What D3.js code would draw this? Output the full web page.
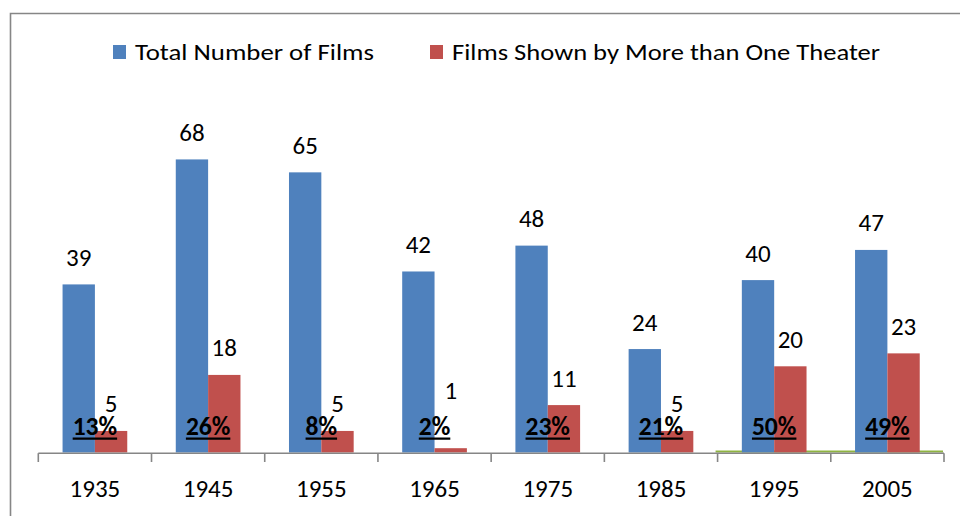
<!DOCTYPE html>
<html>
<head>
<meta charset="utf-8">
<script src="https://cdn.jsdelivr.net/npm/d3@7"></script>
<style>
  body { margin: 0; background: #fff; }
  text { font-family: Calibri, Carlito, Lato, "Open Sans", sans-serif; fill: #000; }
</style>
</head>
<body>
<div id="chart"></div>
<script>
// chart values
const years = ["1935", "1945", "1955", "1965", "1975", "1985", "1995", "2005"];
const totalFilms = [39, 68, 65, 42, 48, 24, 40, 47];
const multiTheater = [5, 18, 5, 1, 11, 5, 20, 23];
const seriesNames = ["Total Number of Films", "Films Shown by More than One Theater"];
const seriesColors = ["#4f81bd", "#c0504d"];

const width = 960, height = 516;

const svg = d3.select("#chart")
  .append("svg")
  .attr("width", width)
  .attr("height", height);

// frame (only top and left edges fall inside the picture)
svg.append("path")
  .attr("d", "M10.5,516 V13.5 H960")
  .attr("fill", "none")
  .attr("stroke", "#868686")
  .attr("stroke-width", 1.6);

// scales
const x0 = d3.scaleBand()
  .domain(years)
  .range([38.3, 944]);

const x1 = d3.scaleBand()
  .domain([0, 1])
  .range([0, x0.bandwidth()])
  .paddingOuter(0.75);

const y = d3.scaleLinear()
  .domain([0, 80])
  .range([452.5, 107.7]);

const rows = years.map((yr, i) => ({
  year: yr,
  values: [totalFilms[i], multiTheater[i]],
  share: multiTheater[i] / totalFilms[i]
}));

// green line under the last two groups
svg.append("line")
  .attr("x1", x0("1995") - 2)
  .attr("x2", x0("2005") + x0.bandwidth() - 1)
  .attr("y1", 451.5).attr("y2", 451.5)
  .attr("stroke", "#8fb442")
  .attr("stroke-width", 2);

// bars
const groups = svg.append("g")
  .selectAll("g")
  .data(rows)
  .join("g")
  .attr("transform", d => `translate(${x0(d.year)},0)`);

groups.selectAll("rect")
  .data(d => d.values.map((v, k) => ({k, v})))
  .join("rect")
  .attr("x", d => x1(d.k))
  .attr("width", x1.bandwidth())
  .attr("y", d => y(d.v))
  .attr("height", d => y(0) - y(d.v))
  .attr("fill", d => seriesColors[d.k]);

// the "1" of 1965 sits higher so it clears the percent label
const nudge = {"1965": -31};

groups.selectAll("text.val")
  .data(d => d.values.map((v, k) => ({k, v, year: d.year})))
  .join("text")
  .attr("class", "val")
  .attr("x", d => x1(d.k) + x1.bandwidth() / 2)
  .attr("y", d => y(d.v) - 18.5 + (d.k === 1 && nudge[d.year] ? nudge[d.year] : 0))
  .attr("text-anchor", "middle")
  .style("font-size", "25px")
  .text(d => d.v);

// percent labels, bold + underlined
const fmt = d3.format(".0%");
groups.each(function(d) {
  const g = d3.select(this);
  const cx = x0.bandwidth() / 2;
  const t = g.append("text")
    .attr("x", cx)
    .attr("y", 434.5)
    .attr("text-anchor", "middle")
    .style("font-size", "25.5px")
    .style("font-weight", "bold")
    .text(fmt(d.share));
  const w = t.node().getComputedTextLength();
  g.append("line")
    .attr("x1", cx - w / 2).attr("x2", cx + w / 2)
    .attr("y1", 438.6).attr("y2", 438.6)
    .attr("stroke", "#000")
    .attr("stroke-width", 2.2);
});

// x axis
const axisY = 453.2;
svg.append("line")
  .attr("x1", x0.range()[0]).attr("x2", x0.range()[1])
  .attr("y1", axisY).attr("y2", axisY)
  .attr("stroke", "#868686")
  .attr("stroke-width", 1.6);

const edges = years.map(v => x0(v)).concat([x0.range()[1]]);
svg.append("g")
  .selectAll("line")
  .data(edges)
  .join("line")
  .attr("x1", d => d).attr("x2", d => d)
  .attr("y1", axisY).attr("y2", 462)
  .attr("stroke", "#868686")
  .attr("stroke-width", 1.6);

svg.append("g")
  .selectAll("text")
  .data(years)
  .join("text")
  .attr("x", d => x0(d) + x0.bandwidth() / 2)
  .attr("y", 496.5)
  .attr("text-anchor", "middle")
  .style("font-size", "25px")
  .text(d => d);

// legend
const legendX = [113, 430];
const legendW = [239, 428];
const legend = svg.append("g")
  .selectAll("g")
  .data(seriesNames)
  .join("g");

legend.append("rect")
  .attr("x", (d, i) => legendX[i])
  .attr("y", 45)
  .attr("width", 13)
  .attr("height", 14)
  .attr("fill", (d, i) => seriesColors[i]);

legend.append("text")
  .attr("x", (d, i) => legendX[i] + 22)
  .attr("y", 60)
  .style("font-size", "22px")
  .attr("textLength", (d, i) => legendW[i])
  .attr("lengthAdjust", "spacingAndGlyphs")
  .text(d => d);
</script>
</body>
</html>
